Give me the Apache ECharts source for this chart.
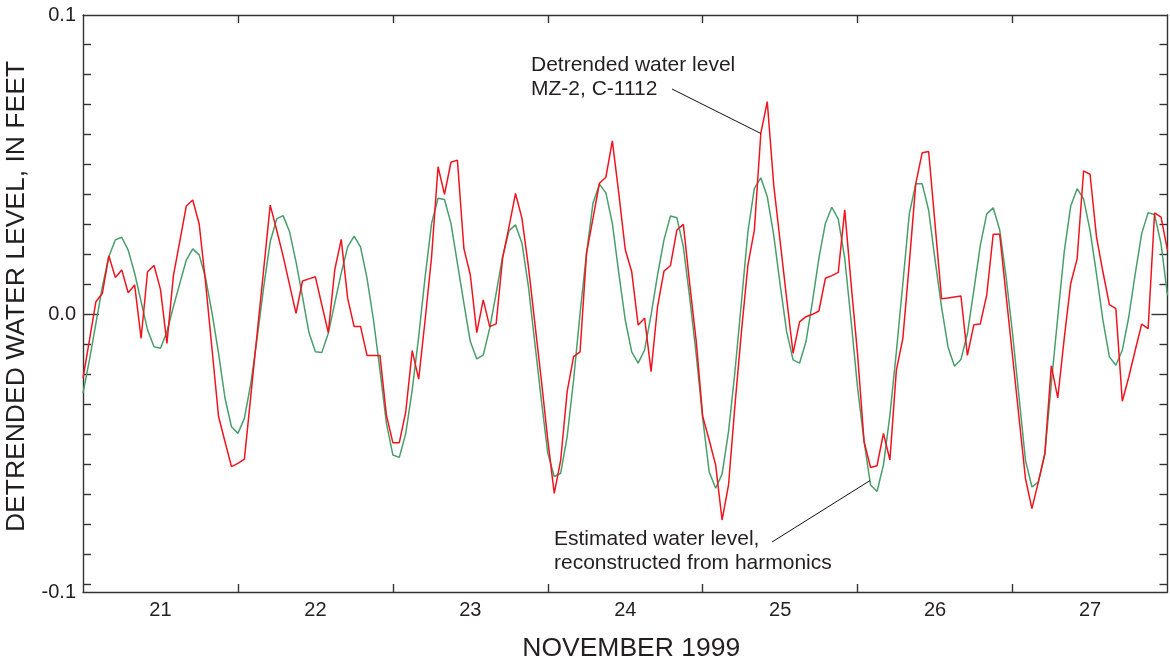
<!DOCTYPE html>
<html>
<head>
<meta charset="utf-8">
<script src="https://cdn.jsdelivr.net/npm/echarts@6/dist/echarts.min.js"></script>
<style>
html,body{margin:0;padding:0;background:#fff;}
#chart{width:1170px;height:666px;}
</style>
</head>
<body>
<div id="chart"></div>
<script>
// Hourly samples starting Nov 21, 1999 00:00 (x axis in day-of-month units)
const startDay = 21;
const stepDays = 1 / 24;

// Detrended water level MZ-2, C-1112 (feet)
const detrended = [
 -0.0214,-0.0087,0.0041,0.0069,0.0194,0.0122,0.0147,0.0071,0.0097,-0.0081,0.0141,0.0162,
 0.0082,-0.0098,0.0127,0.0243,0.036,0.038,0.030,0.0102,-0.012,-0.0342,-0.0426,-0.0509,
 -0.0498,-0.0484,-0.0272,-0.006,0.0151,0.0363,0.028,0.0193,0.0097,0.0002,0.011,0.0117,
 0.0124,0.003,-0.0062,0.0147,0.0249,0.0052,-0.0042,-0.0042,-0.0138,-0.0138,-0.0138,-0.0337,
 -0.0429,-0.0429,-0.0326,-0.0122,-0.0217,-0.002,0.0191,0.0491,0.0399,0.0506,0.0513,0.0219,
 0.013,-0.0062,0.0047,-0.0042,-0.0033,0.0186,0.0291,0.0402,0.0319,0.0158,-0.0031,-0.022,
 -0.042,-0.0598,-0.0487,-0.0259,-0.0142,-0.0126,0.0202,0.0319,0.0436,0.0456,0.0577,0.0402,
 0.0215,0.0141,-0.0037,-0.0014,-0.0192,0.0024,0.0143,0.0161,0.028,0.0299,0.0097,-0.0092,
 -0.0342,-0.042,-0.0503,-0.0687,-0.057,-0.0303,-0.0059,0.0163,0.028,0.0602,0.0708,0.043,
 0.0241,0.0052,-0.0131,-0.0026,-0.0009,-0.0001,0.001,0.0119,0.0128,0.0139,0.0347,0.0097,
 -0.0137,-0.0426,-0.0512,-0.0506,-0.0398,-0.0487,-0.0187,-0.0082,0.0168,0.0434,0.0538,0.0542,
 0.0297,0.0051,0.0053,0.0057,0.006,-0.0138,-0.0036,-0.0033,0.0064,0.0266,0.0266,0.0062,
 -0.0141,-0.0346,-0.0549,-0.0649,-0.056,-0.0466,-0.0173,-0.028,-0.0082,0.0101,0.0184,0.0477,
 0.0466,0.0257,0.014,0.0031,0.0018,-0.0291,-0.021,-0.0121,-0.0034,-0.0049,0.0337,0.0323,
 0.0212
];

// Estimated water level, reconstructed from harmonics (feet)
const estimated = [
 -0.0264,-0.0153,-0.0031,0.0091,0.0191,0.0247,0.0256,0.0213,0.0136,0.0041,-0.0053,-0.0109,
 -0.0114,-0.0059,0.0024,0.0102,0.018,0.0217,0.0197,0.0119,0.0002,-0.0131,-0.0281,-0.0376,
 -0.0398,-0.0348,-0.0231,-0.0076,0.0091,0.0241,0.0317,0.0328,0.0274,0.0174,0.0058,-0.0062,
 -0.0126,-0.0128,-0.0064,0.0036,0.0136,0.0224,0.026,0.0223,0.0119,-0.002,-0.0187,-0.0364,
 -0.047,-0.0478,-0.0398,-0.0253,-0.0076,0.0124,0.0302,0.0386,0.0382,0.0302,0.0169,0.0036,
 -0.0092,-0.015,-0.0137,-0.0048,0.0069,0.0191,0.0278,0.0297,0.0236,0.0091,-0.0098,-0.0287,
 -0.0464,-0.0542,-0.0531,-0.0409,-0.022,0.0002,0.0202,0.0369,0.0433,0.0404,0.0302,0.0136,
 -0.002,-0.0126,-0.0164,-0.012,-0.0003,0.013,0.0247,0.0327,0.0321,0.0224,0.0052,-0.0137,
 -0.0348,-0.0526,-0.0581,-0.0534,-0.0392,-0.0191,0.0041,0.0274,0.0419,0.0454,0.0391,0.0263,
 0.0097,-0.0059,-0.0153,-0.0164,-0.0092,0.0041,0.0186,0.0302,0.0356,0.0316,0.0186,-0.0026,
 -0.0248,-0.0426,-0.057,-0.0592,-0.0503,-0.0337,-0.0126,0.0101,0.0334,0.0434,0.0434,0.0346,
 0.0179,0.0023,-0.011,-0.0174,-0.0152,-0.0066,0.0079,0.0229,0.0334,0.0354,0.0281,0.0123,
 -0.0066,-0.0277,-0.0488,-0.0577,-0.056,-0.0466,-0.0232,-0.001,0.0207,0.0359,0.0418,0.0384,
 0.0279,0.0134,-0.0021,-0.0143,-0.0171,-0.0121,-0.001,0.0134,0.0268,0.0338,0.0331,0.0234,
 0.0062
];

// Axis ticks / labels
const dayBoundaries = [22, 23, 24, 25, 26, 27];
const dayLabels = [21, 22, 23, 24, 25, 26, 27];
const yMinorTicks = [-0.09,-0.08,-0.07,-0.06,-0.05,-0.04,-0.03,-0.02,-0.01,0.01,0.02,0.03,0.04,0.05,0.06,0.07,0.08,0.09];
const yMajorTicks = [0];
const xMin = 21, xMax = 28;
const yMin = -0.0927, yMax = 0.0997;

const FONT = "'Liberation Sans', Arial, Helvetica, sans-serif";
const AX = '#333333';
const TXT = '#231f20';

const toPairs = arr => arr.map((v, i) => [startDay + i * stepDays, v]);

const chart = echarts.init(document.getElementById('chart'), null, {renderer: 'canvas'});

const baseX = {
  type: 'value', min: xMin, max: xMax,
  splitLine: {show: false},
  axisLine: {show: true, onZero: false, lineStyle: {color: AX, width: 1.4}},
  axisTick: {show: true, inside: true, length: 8, customValues: dayBoundaries, lineStyle: {color: AX, width: 1.4}},
  axisLabel: {show: false}
};
const baseY = {
  type: 'value', min: yMin, max: yMax,
  splitLine: {show: false},
  axisLine: {show: true, onZero: false, lineStyle: {color: AX, width: 1.4}},
  axisTick: {show: true, inside: true, length: 8, customValues: yMinorTicks, lineStyle: {color: AX, width: 1.4}},
  axisLabel: {show: false}
};

chart.setOption({
  animation: false,
  backgroundColor: '#ffffff',
  grid: {left: 83, right: 2.5, top: 15, bottom: 74, outerBoundsMode: 'none'},
  xAxis: [
    Object.assign({}, baseX, {
      position: 'bottom',
      axisLabel: {
        show: true, customValues: dayLabels.map(d => d + 0.5), margin: 8,
        formatter: v => String(Math.floor(v)),
        color: TXT, fontSize: 20, fontFamily: FONT
      },
      name: 'NOVEMBER 1999', nameLocation: 'middle', nameGap: 43,
      nameTextStyle: {color: TXT, fontSize: 26.5, fontFamily: FONT, padding: [0, 0, 0, 12]}
    }),
    Object.assign({}, baseX, {position: 'top'})
  ],
  yAxis: [
    Object.assign({}, baseY, {
      position: 'left',
      axisLabel: {
        show: true, customValues: [yMin, 0, yMax], margin: 7,
        formatter: v => v.toFixed(1),
        color: TXT, fontSize: 20, fontFamily: FONT
      },
      name: 'DETRENDED WATER LEVEL, IN FEET', nameLocation: 'middle', nameGap: 43,
      nameTextStyle: {color: TXT, fontSize: 26.5, fontFamily: FONT, padding: [0, 0, 0, 14]}
    }),
    Object.assign({}, baseY, {
      position: 'left', axisLine: {show: false},
      axisTick: {show: true, inside: true, length: 16, customValues: yMajorTicks, lineStyle: {color: AX, width: 1.4}}
    }),
    Object.assign({}, baseY, {position: 'right'}),
    Object.assign({}, baseY, {
      position: 'right', axisLine: {show: false},
      axisTick: {show: true, inside: true, length: 16, customValues: yMajorTicks, lineStyle: {color: AX, width: 1.4}}
    })
  ],
  series: [
    {
      name: 'Estimated water level, reconstructed from harmonics',
      type: 'line', xAxisIndex: 0, yAxisIndex: 0,
      data: toPairs(estimated), showSymbol: false, symbol: 'none',
      lineStyle: {color: '#4a9e6c', width: 1.5}, z: 2
    },
    {
      name: 'Detrended water level MZ-2, C-1112',
      type: 'line', xAxisIndex: 0, yAxisIndex: 0,
      data: toPairs(detrended), showSymbol: false, symbol: 'none',
      lineStyle: {color: '#f0141e', width: 1.5}, z: 3
    }
  ]
});

// Annotation leaders: end on the curves (converted from data coordinates)
const redAnchorIdx = 105;
const redEnd = chart.convertToPixel({xAxisIndex: 0, yAxisIndex: 0},
  [startDay + redAnchorIdx * stepDays, detrended[redAnchorIdx]]);
const greenAnchorHour = 121.9;
const gi = Math.floor(greenAnchorHour), gf = greenAnchorHour - gi;
const greenEnd = chart.convertToPixel({xAxisIndex: 0, yAxisIndex: 0},
  [startDay + greenAnchorHour * stepDays, estimated[gi] * (1 - gf) + estimated[gi + 1] * gf]);

chart.setOption({
  graphic: [
    {type: 'text', left: 531, top: 53, z: 10,
     style: {text: 'Detrended water level\nMZ-2, C-1112', fill: TXT, font: '21px ' + FONT, lineHeight: 24}},
    {type: 'line', z: 10, shape: {x1: 672, y1: 89, x2: redEnd[0], y2: redEnd[1]},
     style: {stroke: '#111', lineWidth: 1}},
    {type: 'text', left: 554, top: 527, z: 10,
     style: {text: 'Estimated water level,\nreconstructed from harmonics', fill: TXT, font: '21px ' + FONT, lineHeight: 24}},
    {type: 'line', z: 10, shape: {x1: 772, y1: 542, x2: greenEnd[0], y2: greenEnd[1]},
     style: {stroke: '#111', lineWidth: 1}}
  ]
});
</script>
</body>
</html>
